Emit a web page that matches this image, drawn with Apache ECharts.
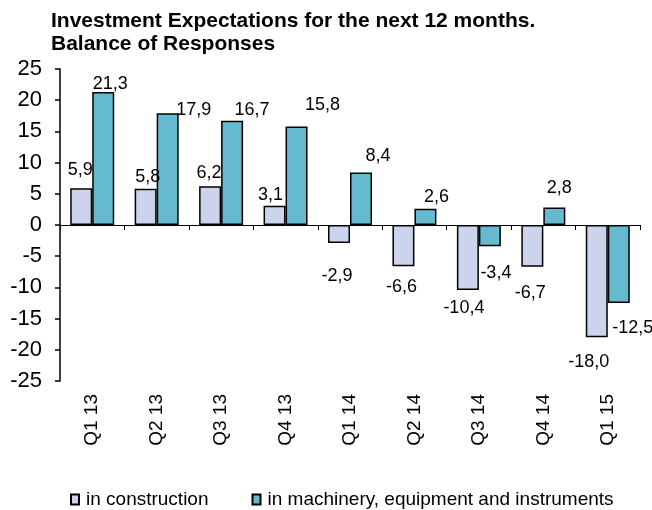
<!DOCTYPE html>
<html>
<head>
<meta charset="utf-8">
<script src="https://cdn.jsdelivr.net/npm/echarts@6/dist/echarts.min.js"></script>
<style>
  html, body { margin: 0; padding: 0; background: #fff; }
  #chart { width: 652px; height: 510px; }
</style>
</head>
<body>
<div id="chart"></div>
<script>
var quarters = ['Q1 13', 'Q2 13', 'Q3 13', 'Q4 13', 'Q1 14', 'Q2 14', 'Q3 14', 'Q4 14', 'Q1 15'];
var construction = [5.9, 5.8, 6.2, 3.1, -2.9, -6.6, -10.4, -6.7, -18.0];
var machinery = [21.3, 17.9, 16.7, 15.8, 8.4, 2.6, -3.4, 2.8, -12.5];
var yTicks = [-25, -20, -15, -10, -5, 0, 5, 10, 15, 20, 25];

// label nudges, like the hand-moved labels of the original (dx, gap to label centre)
var nudgeConstruction = [[-1, 18], [2, 12], [-1, 13], [-4, 11], [-2, 33], [-2, 21], [-4, 18], [-2, 26], [-8, 25]];
var nudgeMachinery = [[7, 8], [26, 3], [20, 11], [26, 21], [17, 17], [11, 12], [6, 27], [5, 19], [14, 25]];

var fontName = '"Liberation Sans", Arial, sans-serif';

function fmt(v) {
    return v.toFixed(1).replace('.', ',');
}

function buildData(values, nudges) {
    return values.map(function (v, i) {
        var up = v >= 0;
        var dy = nudges[i][1] - 9;
        return {
            value: v,
            label: {
                position: up ? 'top' : 'bottom',
                distance: 0,
                offset: [nudges[i][0], up ? -dy : dy]
            }
        };
    });
}

var chart = echarts.init(document.getElementById('chart'));

var option = {
    backgroundColor: '#fff',
    animation: false,
    title: {
        text: 'Investment Expectations for the next 12 months.\nBalance of Responses',
        left: 51,
        top: 10,
        padding: 0,
        textStyle: {
            fontFamily: fontName,
            fontSize: 21,
            fontWeight: 'bold',
            color: '#000',
            lineHeight: 23
        }
    },
    legend: {
        left: 70,
        top: 490,
        padding: 0,
        itemWidth: 8,
        itemHeight: 10,
        itemGap: 43,
        icon: 'rect',
        textStyle: { fontFamily: fontName, fontSize: 19, color: '#000', padding: [0, 0, 0, 2] },
        data: ['in construction', 'in machinery, equipment and instruments']
    },
    grid: {
        left: 60,
        right: 12,
        top: 69,
        bottom: 129
    },
    xAxis: [{
        type: 'category',
        data: quarters,
        axisLine: { onZero: true, lineStyle: { color: '#000', width: 1 } },
        axisTick: { show: true, inside: false, length: 5, lineStyle: { color: '#000' } },
        axisLabel: { show: false }
    }, {
        type: 'category',
        data: quarters,
        position: 'bottom',
        axisLine: { show: false, onZero: false },
        axisTick: { show: false },
        axisLabel: {
            rotate: 90,
            margin: 13,
            fontFamily: fontName,
            fontSize: 19,
            color: '#000'
        }
    }],
    yAxis: {
        type: 'value',
        min: yTicks[0],
        max: yTicks[yTicks.length - 1],
        interval: 5,
        axisLine: { show: true, lineStyle: { color: '#000', width: 1.5 } },
        axisTick: { show: true, inside: false, length: 5, lineStyle: { color: '#000', width: 1.5 } },
        splitLine: { show: false },
        axisLabel: {
            margin: 18,
            fontFamily: fontName,
            fontSize: 22,
            color: '#000'
        }
    },
    series: [{
        name: 'in construction',
        type: 'bar',
        barWidth: 22,
        barGap: '0%',
        data: buildData(construction, nudgeConstruction),
        itemStyle: { color: '#CBD4EC', borderColor: '#000', borderWidth: 1.5 },
        label: {
            show: true,
            fontFamily: fontName,
            fontSize: 18,
            color: '#000',
            formatter: function (p) { return fmt(p.value); }
        }
    }, {
        name: 'in machinery, equipment and instruments',
        type: 'bar',
        barWidth: 22,
        barGap: '0%',
        data: buildData(machinery, nudgeMachinery),
        itemStyle: { color: '#66BACF', borderColor: '#000', borderWidth: 1.5 },
        label: {
            show: true,
            fontFamily: fontName,
            fontSize: 18,
            color: '#000',
            formatter: function (p) { return fmt(p.value); }
        }
    }]
};

chart.setOption(option);
</script>
</body>
</html>
